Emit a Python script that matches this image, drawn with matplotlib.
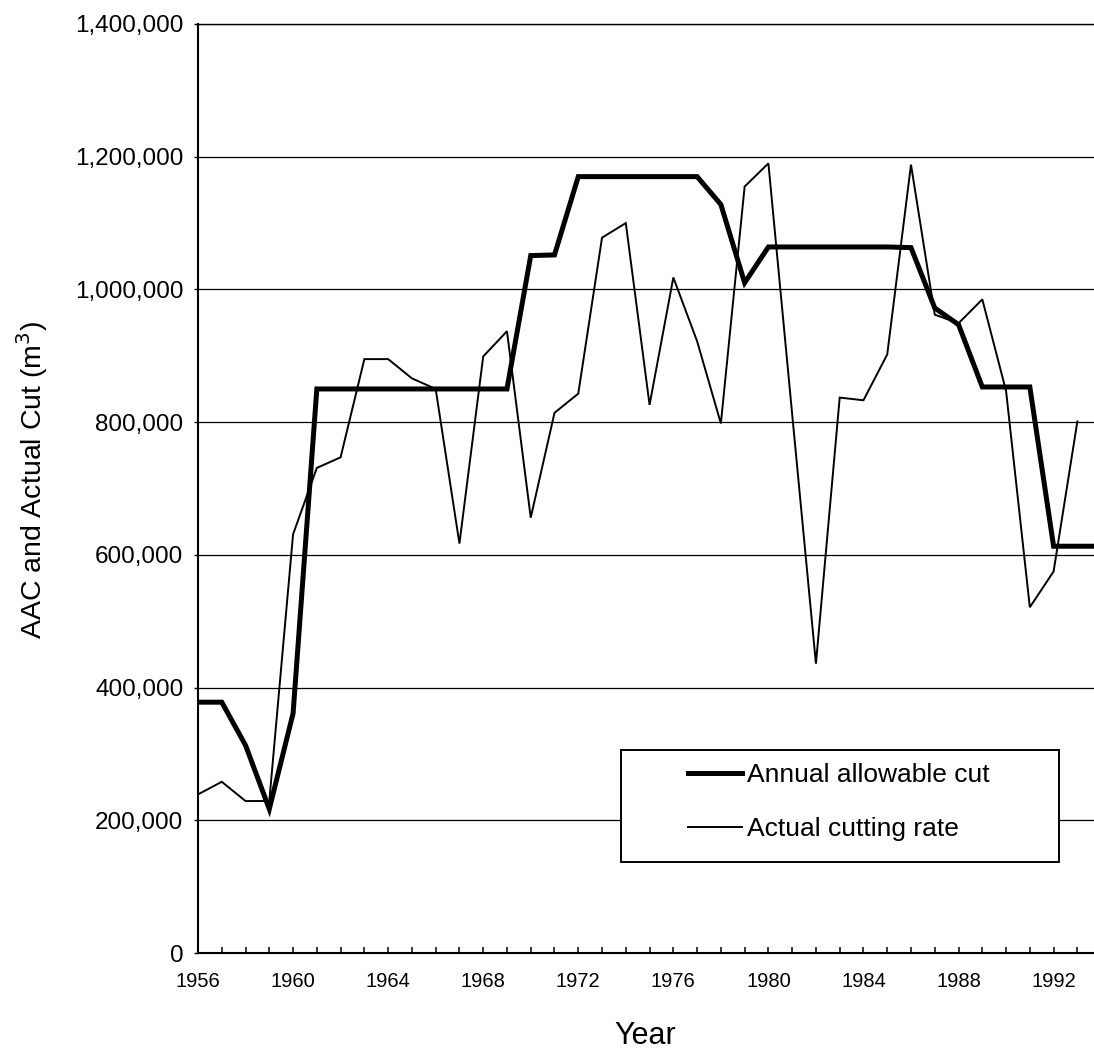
import numpy as np
import matplotlib
matplotlib.use("Agg")
import matplotlib.pyplot as plt
from matplotlib.patches import Rectangle
from matplotlib.ticker import MultipleLocator, FuncFormatter

plt.rcParams['font.family'] = ['Liberation Sans', 'DejaVu Sans']

# annual allowable cut and actual harvest, m3 per year
aac_years = list(range(1956, 1995))
aac = [378000, 378000, 313000, 217000, 361000, 850000, 850000, 850000,
       850000, 850000, 850000, 850000, 850000, 850000, 1051000, 1052000,
       1170000, 1170000, 1170000, 1170000, 1170000, 1170000, 1128000, 1010000,
       1064000, 1064000, 1064000, 1064000, 1064000, 1064000, 1063000, 972000,
       947000, 853000, 853000, 853000, 613000, 613000, 613000]

cut_years = list(range(1956, 1994))
actual_cut = [239000, 258000, 229000, 229000, 631000, 731000, 747000, 895000,
              895000, 866000, 850000, 617000, 899000, 937000, 656000, 814000,
              843000, 1078000, 1100000, 826000, 1018000, 922000, 798000, 1155000,
              1190000, 812000, 436000, 837000, 833000, 902000, 1188000, 962000,
              949000, 985000, 847000, 521000, 575000, 801000]

fig = plt.figure(figsize=(10.94, 10.49), dpi=100)
ax = fig.add_axes([198 / 1094, 1 - 953 / 1049, 896 / 1094, 929 / 1049])

ax.plot(aac_years, aac, color='black', lw=3.6, solid_joinstyle='miter',
        label='Annual allowable cut', zorder=3)
ax.plot(cut_years, actual_cut, color='black', lw=1.4, solid_joinstyle='miter',
        label='Actual cutting rate', zorder=3)

ax.set_xlim(1956, 1993.7)
ax.set_ylim(0, 1400000)

ax.yaxis.set_major_locator(MultipleLocator(200000))
ax.yaxis.set_major_formatter(FuncFormatter(lambda v, p: f'{int(v):,}'))
ax.grid(axis='y', color='black', lw=0.9, zorder=1)

ax.xaxis.set_major_locator(MultipleLocator(4))
ax.xaxis.set_minor_locator(MultipleLocator(1))
ax.tick_params(axis='x', which='both', direction='in', length=4.5, width=1.1,
               labelsize=14.5, pad=14)
ax.tick_params(axis='y', which='major', direction='out', length=3, width=1,
               labelsize=17.5, pad=7.5)

for s in ('left', 'bottom', 'top'):
    ax.spines[s].set_linewidth(1.5)
ax.spines['top'].set_linewidth(1.0)
ax.spines['right'].set_visible(False)

# legend box drawn over the 200,000 gridline
ax.add_patch(Rectangle((0.472, 0.098), 0.489, 0.1205, transform=ax.transAxes,
                       facecolor='white', edgecolor='black', lw=1.4, zorder=4))
leg = ax.legend(loc='center left', bbox_to_anchor=(0.547, 0.1625), frameon=False,
                fontsize=19, handlelength=2.05, handletextpad=0.2,
                labelspacing=1.15, borderpad=0, borderaxespad=0)
leg.set_zorder(5)

fig.text(645 / 1094, 1 - 1036 / 1049, 'Year', fontsize=22, ha='center', va='center')
fig.text(32 / 1094, 1 - 480 / 1049, 'AAC and Actual Cut (m$^3$)', fontsize=20.5,
         rotation=90, ha='center', va='center',
         family=['Liberation Sans Narrow', 'Liberation Sans', 'DejaVu Sans'])

fig.savefig('out.png', dpi=100)
